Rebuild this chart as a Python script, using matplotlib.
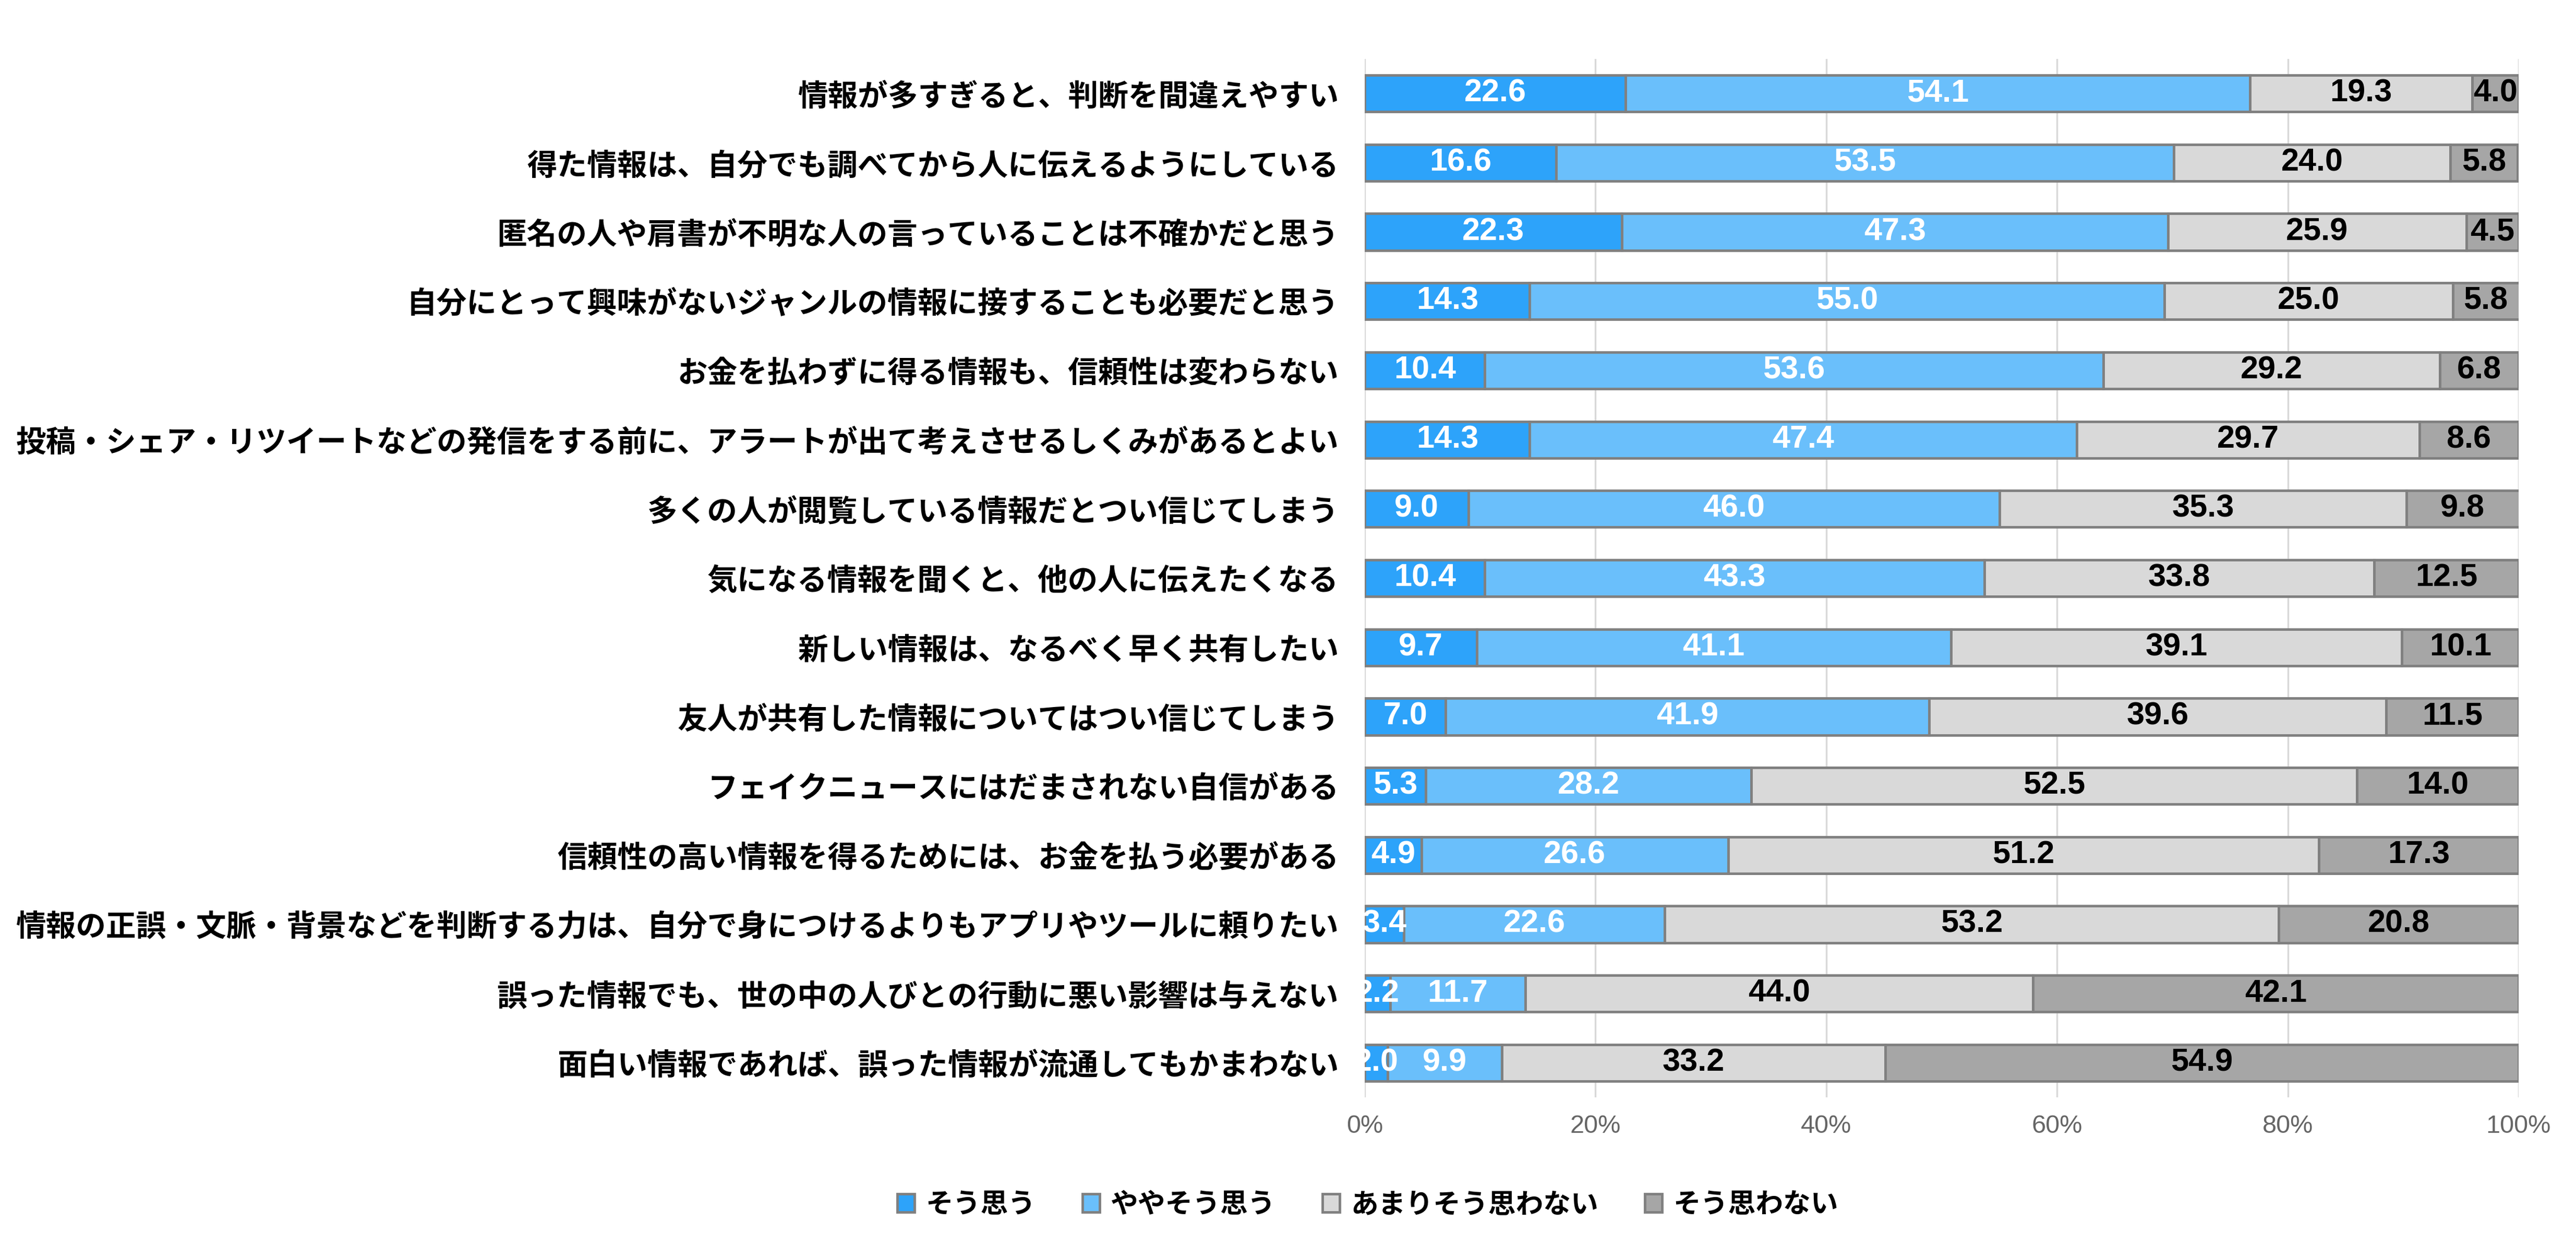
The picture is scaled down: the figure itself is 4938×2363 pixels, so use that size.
import matplotlib
matplotlib.use("Agg")
import matplotlib.pyplot as plt
import numpy as np

categories = [
    "情報が多すぎると、判断を間違えやすい",
    "得た情報は、自分でも調べてから人に伝えるようにしている",
    "匿名の人や肩書が不明な人の言っていることは不確かだと思う",
    "自分にとって興味がないジャンルの情報に接することも必要だと思う",
    "お金を払わずに得る情報も、信頼性は変わらない",
    "投稿・シェア・リツイートなどの発信をする前に、アラートが出て考えさせるしくみがあるとよい",
    "多くの人が閲覧している情報だとつい信じてしまう",
    "気になる情報を聞くと、他の人に伝えたくなる",
    "新しい情報は、なるべく早く共有したい",
    "友人が共有した情報についてはつい信じてしまう",
    "フェイクニュースにはだまされない自信がある",
    "信頼性の高い情報を得るためには、お金を払う必要がある",
    "情報の正誤・文脈・背景などを判断する力は、自分で身につけるよりもアプリやツールに頼りたい",
    "誤った情報でも、世の中の人びとの行動に悪い影響は与えない",
    "面白い情報であれば、誤った情報が流通してもかまわない",
]
series_names = ["そう思う", "ややそう思う", "あまりそう思わない", "そう思わない"]
agree = [22.6, 16.6, 22.3, 14.3, 10.4, 14.3, 9.0, 10.4, 9.7, 7.0, 5.3, 4.9, 3.4, 2.2, 2.0]
somewhat_agree = [54.1, 53.5, 47.3, 55.0, 53.6, 47.4, 46.0, 43.3, 41.1, 41.9, 28.2, 26.6, 22.6, 11.7, 9.9]
somewhat_disagree = [19.3, 24.0, 25.9, 25.0, 29.2, 29.7, 35.3, 33.8, 39.1, 39.6, 52.5, 51.2, 53.2, 44.0, 33.2]
disagree = [4.0, 5.8, 4.5, 5.8, 6.8, 8.6, 9.8, 12.5, 10.1, 11.5, 14.0, 17.3, 20.8, 42.1, 54.9]
xticks = [0, 20, 40, 60, 80, 100]
xtick_labels = ["0%", "20%", "40%", "60%", "80%", "100%"]

colors = ["#2DA3FA", "#6ABFFB", "#D9D9D9", "#A6A6A6"]
label_colors = ["white", "white", "black", "black"]

fig = plt.figure(figsize=(49.38, 23.63), dpi=100)
ax = fig.add_axes([0.5298, 0.1100, 0.9777 - 0.5298, 0.9522 - 0.1100])

y = np.arange(len(categories))
left = np.zeros(len(categories))
handles = []
for vals, name, c, lc in zip([agree, somewhat_agree, somewhat_disagree, disagree],
                             series_names, colors, label_colors):
    vals = np.array(vals)
    bars = ax.barh(y, vals, left=left, height=0.53, color=c, edgecolor="#808080",
                   linewidth=3.5, label=name, zorder=3)
    ax.bar_label(bars, labels=[f"{v:.1f}" for v in vals], label_type="center",
                 color=lc, fontsize=44, fontweight="bold",
                 fontfamily=["Liberation Sans", "DejaVu Sans"], zorder=4)
    handles.append(bars)
    left += vals

ax.set_xlim(0, 100)
ax.set_ylim(len(categories) - 0.5, -0.5)
ax.set_yticks(y)
ax.set_yticklabels(categories, fontsize=41.5, fontweight="bold",
                   fontfamily=["Noto Sans CJK JP", "DejaVu Sans"])
ax.set_xticks(xticks)
ax.set_xticklabels(xtick_labels, fontsize=35, color="#666666",
                   fontfamily=["Liberation Sans", "DejaVu Sans"])
ax.tick_params(axis="y", length=0, pad=36)
ax.tick_params(axis="x", length=0, pad=24)
ax.grid(axis="x", color="#D9D9D9", linewidth=2.5, zorder=0)
for s in ax.spines.values():
    s.set_visible(False)

leg = fig.legend(handles=handles, labels=series_names, loc="center",
                 bbox_to_anchor=(0.531, 0.023), ncol=4, frameon=False,
                 prop={"family": ["Noto Sans CJK JP", "DejaVu Sans"], "size": 38, "weight": "bold"},
                 handlelength=0.62, handleheight=0.62, handletextpad=0.4, columnspacing=1.7)

fig.savefig("out.png", dpi=100, facecolor="white")
